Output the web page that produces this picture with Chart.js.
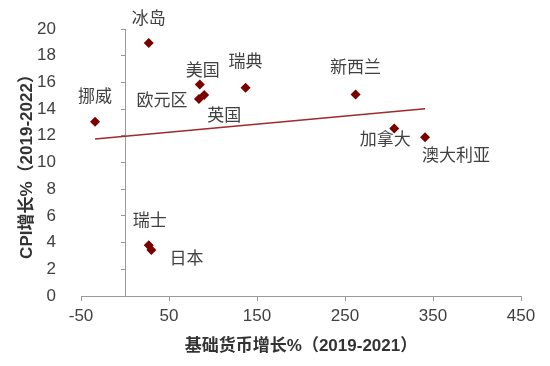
<!DOCTYPE html>
<html>
<head>
<meta charset="utf-8">
<script src="https://cdn.jsdelivr.net/npm/chart.js@4"></script>
<style>
  html, body { margin: 0; padding: 0; background: #fff; }
  #wrap { width: 550px; height: 366px; }
</style>
</head>
<body>
<div id="wrap"><canvas id="chart" width="550" height="366"></canvas></div>
<script>
const countries = ['冰岛', '挪威', '美国', '欧元区', '英国', '瑞典', '新西兰', '加拿大', '澳大利亚', '瑞士', '日本'];
const baseMoneyGrowth = [27, -34, 85, 84, 90, 137, 262, 306, 341, 27, 30];
const cpiGrowth = [18.95, 13.05, 15.85, 14.75, 15.05, 15.6, 15.1, 12.55, 11.9, 3.8, 3.45];
const trendX = [-34, 341];
const trendY = [11.76, 14.03];
const xTicks = [-50, 50, 150, 250, 350, 450];

// label placement relative to the marker (px)
const labelOffsets = [
    [0, -25], [0, -26], [3, -15], [-37, 0], [20, 19], [0, -27],
    [0, -28], [-9, 10], [31, 17], [1, -26], [35, 8]
];

const FONT = '"Liberation Sans", "Noto Sans CJK SC", Arial, sans-serif';
const CJK = '"Noto Sans CJK SC", "Liberation Sans", sans-serif';
const AXIS = '#999999';
const TEXT = '#404040';

const pointLabels = {
    id: 'pointLabels',
    afterDatasetsDraw(chart) {
        const ctx = chart.ctx;
        const meta = chart.getDatasetMeta(1);
        ctx.save();
        ctx.font = '17px ' + CJK;
        ctx.fillStyle = TEXT;
        ctx.textAlign = 'center';
        ctx.textBaseline = 'middle';
        meta.data.forEach((pt, i) => {
            const [dx, dy] = labelOffsets[i];
            ctx.fillText(countries[i], pt.x + dx, pt.y + dy);
        });
        ctx.restore();
    }
};

new Chart(document.getElementById('chart'), {
    type: 'scatter',
    data: {
        datasets: [
            {
                type: 'line',
                data: trendX.map((x, i) => ({ x, y: trendY[i] })),
                borderColor: '#9E2A2E',
                borderWidth: 1.5,
                pointRadius: 0,
                fill: false,
                yAxisID: 'y'
            },
            {
                data: baseMoneyGrowth.map((x, i) => ({ x, y: cpiGrowth[i] })),
                pointStyle: 'rectRot',
                pointRadius: 5,
                backgroundColor: '#7A0000',
                borderColor: '#7A0000',
                borderWidth: 0,
                yAxisID: 'y'
            }
        ]
    },
    options: {
        responsive: false,
        animation: false,
        layout: { padding: { top: 29, right: 29, left: 0, bottom: 0 } },
        plugins: { legend: { display: false }, tooltip: { enabled: false } },
        scales: {
            x: {
                type: 'linear',
                min: -50,
                max: 450,
                afterBuildTicks: (s) => { s.ticks = xTicks.map(v => ({ value: v })); },
                afterFit: (s) => { s.height = 70; },
                grid: { drawOnChartArea: false, drawTicks: true, tickLength: 5, color: AXIS },
                border: { color: AXIS },
                ticks: { color: TEXT, font: { size: 17, family: FONT }, padding: 5, maxRotation: 0 },
                title: {
                    display: true,
                    text: '基础货币增长%（2019-2021）',
                    color: '#333333',
                    font: { size: 17, weight: 'bold', family: FONT },
                    padding: { top: 4, bottom: 9 }
                }
            },
            y: {
                type: 'linear',
                position: { x: 0 },
                min: 0,
                max: 20,
                ticks: { display: false, stepSize: 2 },
                grid: { drawOnChartArea: false, drawTicks: true, tickLength: 4, color: AXIS },
                border: { color: AXIS }
            },
            y2: {
                type: 'linear',
                position: 'left',
                min: 0,
                max: 20,
                afterFit: (s) => { s.width = 81; },
                grid: { display: false },
                border: { display: false },
                ticks: { stepSize: 2, color: TEXT, font: { size: 17, family: FONT }, padding: 17 },
                title: {
                    display: true,
                    text: 'CPI增长%（2019-2022）',
                    color: '#333333',
                    font: { size: 17, weight: 'bold', family: FONT },
                    padding: { top: 17, bottom: 4 }
                }
            }
        }
    },
    plugins: [pointLabels]
});
</script>
</body>
</html>
